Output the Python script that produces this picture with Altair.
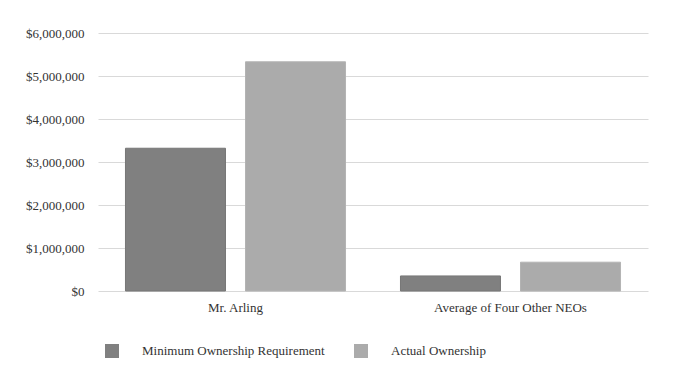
import altair as alt
import pandas as pd

categories = ["Mr. Arling", "Average of Four Other NEOs"]
series = ["Minimum Ownership Requirement", "Actual Ownership"]
min_req = [3320000, 350000]
actual = [5330000, 670000]
colors = ["#808080", "#ababab"]

rows = []
for i, c in enumerate(categories):
    rows.append({"cat": c, "series": series[0], "value": min_req[i]})
    rows.append({"cat": c, "series": series[1], "value": actual[i]})
df = pd.DataFrame(rows)

FONT = "'Times New Roman', 'Liberation Serif', Tinos, serif"

chart = alt.Chart(df).mark_bar(strokeWidth=1).encode(
    x=alt.X("cat:N", sort=categories, title=None,
            scale=alt.Scale(paddingInner=0, paddingOuter=0),
            axis=alt.Axis(labelAngle=0, ticks=False, domain=False, labelPadding=10,
                          labelFontSize=13, labelFont=FONT, labelColor="#333333")),
    xOffset=alt.XOffset("series:N", sort=series,
                        scale=alt.Scale(paddingInner=1/6, paddingOuter=0.229)),
    y=alt.Y("value:Q", title=None,
            scale=alt.Scale(domain=[0, 6000000]),
            axis=alt.Axis(values=[0, 1000000, 2000000, 3000000, 4000000, 5000000, 6000000],
                          format="$,.0f", ticks=False, domain=False, labelPadding=14,
                          labelFontSize=13, labelFont=FONT, labelColor="#333333",
                          gridColor="#d9d9d9")),
    color=alt.Color("series:N", sort=series,
                    scale=alt.Scale(domain=series, range=colors),
                    legend=alt.Legend(title=None, orient="none", legendX=7, legendY=311,
                                      direction="horizontal", columns=2, columnPadding=29,
                                      symbolType="square", symbolSize=196, symbolStrokeWidth=0,
                                      labelOffset=23, labelFontSize=13, labelFont=FONT,
                                      labelLimit=400,
                                      labelColor="#333333", padding=0)),
    stroke=alt.Color("series:N", sort=series,
                     scale=alt.Scale(domain=series, range=["#777777", "#b3b3b3"]),
                     legend=None),
).properties(
    width=550, height=258,
    autosize=alt.AutoSizeParams(type="none"),
    padding={"left": 90, "top": 25, "right": 26, "bottom": 80},
).configure_view(stroke=None)

chart.save("out.html", embed_options={"renderer": "svg", "actions": False})
